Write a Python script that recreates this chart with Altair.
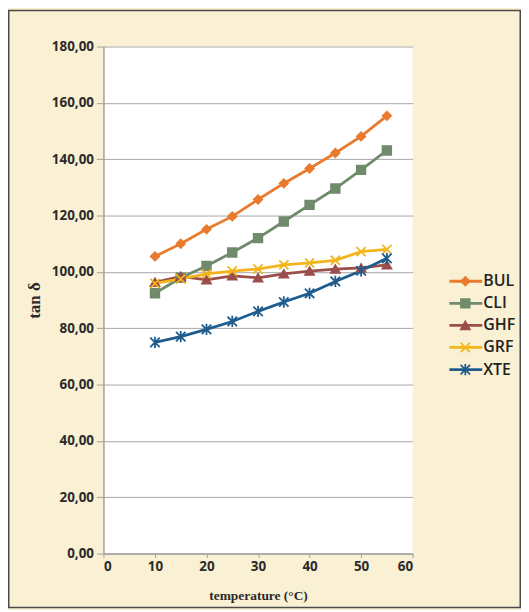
import altair as alt
import pandas as pd

temps = [10, 15, 20, 25, 30, 35, 40, 45, 50, 55]
series_names = ["BUL", "CLI", "GHF", "GRF", "XTE"]
bul = [105.5, 110.0, 115.1, 119.7, 125.7, 131.4, 136.7, 142.2, 148.1, 155.4]
cli = [92.4, 97.9, 102.1, 106.9, 112.0, 117.9, 123.8, 129.6, 136.2, 143.1]
ghf = [96.3, 98.4, 97.2, 98.6, 97.9, 99.3, 100.3, 101.0, 101.4, 102.5]
grf = [95.9, 97.5, 99.3, 100.3, 101.0, 102.5, 103.2, 104.1, 107.2, 108.0]
xte = [75.0, 77.0, 79.6, 82.4, 86.0, 89.3, 92.4, 96.6, 100.4, 104.8]

colors = ["#E97A2E", "#708A6C", "#9B4E4C", "#F2B51C", "#1F5C8E"]
shapes = [
    "diamond",
    "square",
    "triangle-up",
    "M-1,-1L1,1M-1,1L1,-1",
    "M-1,-1L1,1M-1,1L1,-1M0,-1.2L0,1.2",
]
sizes = [70, 90, 65, 70, 95]

values = {"BUL": bul, "CLI": cli, "GHF": ghf, "GRF": grf, "XTE": xte}
rows = []
for s in series_names:
    for t, v in zip(temps, values[s]):
        rows.append({"series": s, "temp": t, "value": v})
df = pd.DataFrame(rows)
legend_df = pd.DataFrame({"series": series_names})

W, H = 311, 510

color_scale = alt.Scale(domain=series_names, range=colors)
shape_scale = alt.Scale(domain=series_names, range=shapes)
size_scale = alt.Scale(domain=series_names, range=sizes)

x_enc = alt.X(
    "temp:Q",
    scale=alt.Scale(domain=[0, 60]),
    axis=alt.Axis(
        values=[0, 10, 20, 30, 40, 50, 60],
        title="temperature (°C)",
        grid=False,
        domainColor="#A0A0A0",
        domainWidth=1.5,
        tickColor="#A0A0A0",
        tickSize=4,
        labelPadding=2,
        labelFont="Open Sans",
        labelFontWeight="bold",
        labelFontSize=13.5,
        labelColor="#2b2b2b",
        titleFont="Liberation Serif",
        titleFontWeight="bold",
        titleFontSize=13.5,
        titleColor="#2b2b2b",
        titleX=W / 2,
        titleY=42,
        titleBaseline="middle",
    ),
)
y_enc = alt.Y(
    "value:Q",
    scale=alt.Scale(domain=[0, 180]),
    axis=alt.Axis(
        values=[0, 20, 40, 60, 80, 100, 120, 140, 160, 180],
        labelExpr="replace(format(datum.value, '.2f'), '.', ',')",
        title="tan δ",
        grid=True,
        gridColor="#A6A6A6",
        gridWidth=1,
        domainColor="#A0A0A0",
        domainWidth=1.5,
        tickColor="#A0A0A0",
        tickSize=7,
        labelPadding=3,
        labelFont="Open Sans",
        labelFontWeight="bold",
        labelFontSize=13.5,
        labelColor="#2b2b2b",
        titleFont="Liberation Serif",
        titleFontWeight="bold",
        titleFontSize=17,
        titleColor="#2b2b2b",
        titleX=-69,
        titleY=H / 2,
        titleAngle=270,
        titleAlign="center",
        titleBaseline="middle",
    ),
)

base = alt.Chart(df)
lines = base.mark_line(strokeWidth=2.8).encode(
    x=x_enc,
    y=y_enc,
    color=alt.Color("series:N", scale=color_scale, legend=None),
    order=alt.Order("temp:Q"),
    detail="series:N",
)
points = base.mark_point(filled=True, strokeWidth=1.8, opacity=1).encode(
    x="temp:Q",
    y="value:Q",
    color=alt.Color("series:N", scale=color_scale, legend=None),
    stroke=alt.Stroke("series:N", scale=color_scale, legend=None),
    shape=alt.Shape("series:N", scale=shape_scale, legend=None),
    size=alt.Size("series:N", scale=size_scale, legend=None),
)
main = alt.layer(lines, points)

ly = alt.Y(
    "series:N",
    scale=alt.Scale(type="point", domain=series_names, range=[225, 336]),
    axis=None,
)
leg = alt.Chart(legend_df)
leg_rule = leg.mark_rule(strokeWidth=2.8).encode(
    x=alt.value(348),
    x2=alt.value(381),
    y=ly,
    color=alt.Color("series:N", scale=color_scale, legend=None),
)
leg_pt = leg.mark_point(filled=True, strokeWidth=1.8, opacity=1).encode(
    x=alt.value(364),
    y=ly,
    color=alt.Color("series:N", scale=color_scale, legend=None),
    stroke=alt.Stroke("series:N", scale=color_scale, legend=None),
    shape=alt.Shape("series:N", scale=shape_scale, legend=None),
    size=alt.Size("series:N", scale=size_scale, legend=None),
)
leg_txt = leg.mark_text(
    align="left", baseline="middle", font="Open Sans", fontSize=16,
    fontWeight=600, color="#222222"
).encode(x=alt.value(382), y=ly, text="series:N")
legend = alt.layer(leg_rule, leg_pt, leg_txt)

frame = alt.Chart(pd.DataFrame({"a": [0]})).mark_rect(
    fill="transparent", stroke="#4a4a4a", strokeWidth=1.5
).encode(
    x=alt.value(-95.25),
    x2=alt.value(419.25),
    y=alt.value(-36.25),
    y2=alt.value(564.25),
)

chart = (
    alt.layer(main, legend, frame)
    .resolve_scale(y="independent")
    .properties(
        width=W,
        height=H,
        autosize=alt.AutoSizeParams(type="none"),
        padding={"left": 96, "top": 37, "right": 109, "bottom": 55},
        background="#FAF0D3",
    )
    .configure_view(fill="white", stroke=None)
)

chart.save("out.html", embed_options={"renderer": "svg", "actions": False})
